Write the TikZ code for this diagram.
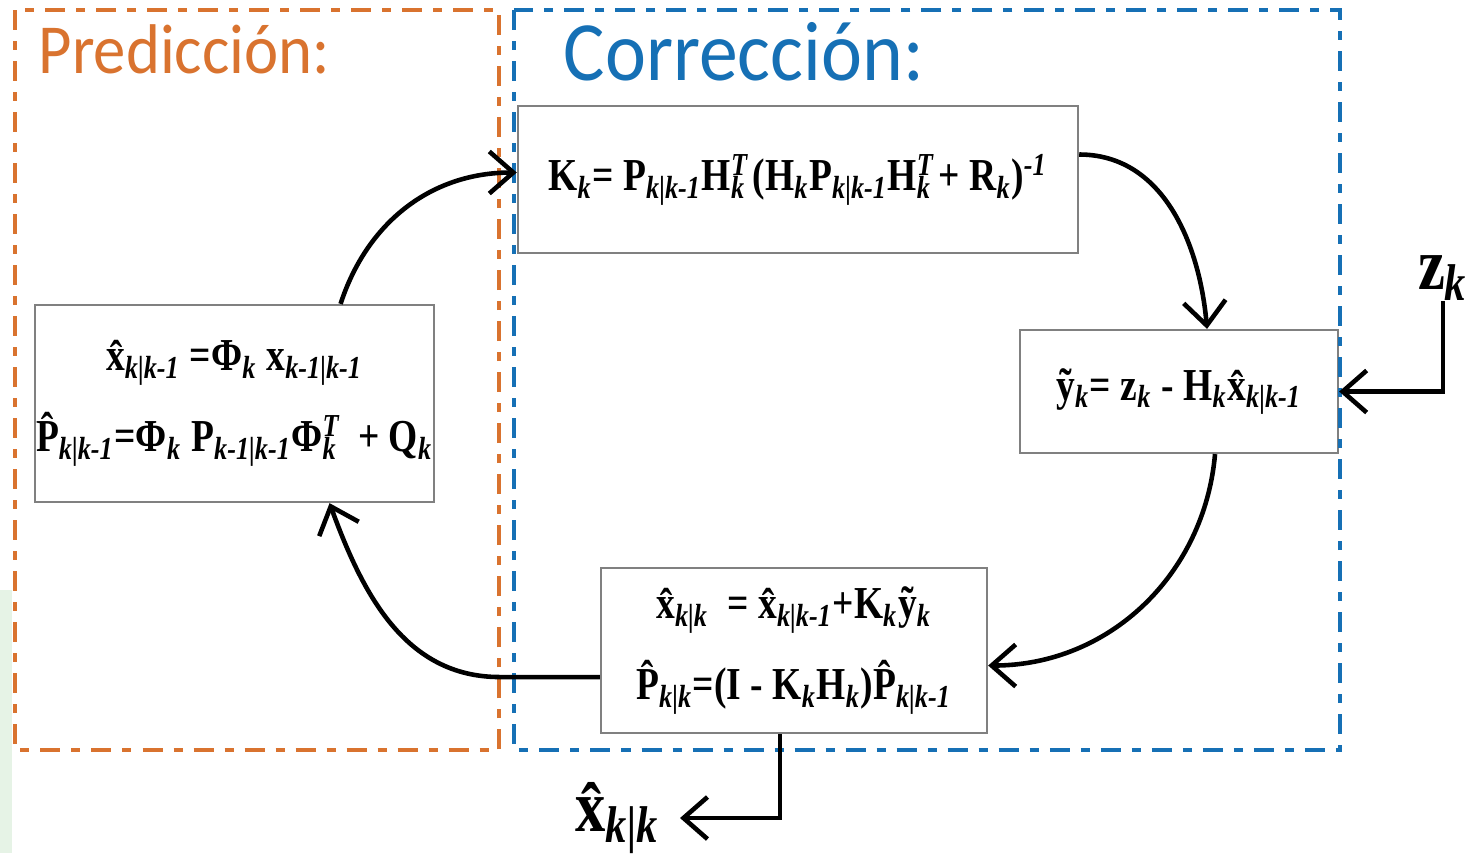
\documentclass[tikz,border=0pt]{standalone}
\usepackage{fontspec}
\setmainfont{Liberation Serif}
\newfontfamily\eqfont[FakeStretch=0.82]{Liberation Serif}
\newfontfamily\titlefont[FakeStretch=0.92]{Carlito}
\usetikzlibrary{arrows.meta}
\newcommand{\sbk}[1]{\textsubscript{\itshape #1}}
\newcommand{\spsb}[2]{\makebox[0pt][l]{\textsuperscript{\itshape #1}}\textsubscript{\itshape #2}\hspace{0.15em}}
\begin{document}
\begin{tikzpicture}[x=0.01cm, y=-0.01cm,
  eqbox/.style={draw=black!50, line width=0.6pt, fill=white, align=center, inner sep=0pt, font=\eqfont\fontsize{13}{23}\selectfont\bfseries},
  flow/.style={line width=1.3pt, -{Straight Barb[length=2.4mm,width=4.2mm]}},
  frame/.style={line width=0.95pt, dash pattern=on 2mm off 1.1mm on 0.9mm off 1.1mm},
  bigsym/.style={font=\eqfont\fontsize{21}{24}\selectfont\bfseries, inner sep=0pt}]
  \definecolor{kfOrange}{HTML}{D9732F}
  \definecolor{kfBlue}{HTML}{1670B5}
  \definecolor{kfMint}{HTML}{E6F3E6}
  \useasboundingbox (0,0) rectangle (1467,853);
  \fill[kfMint] (0,590) rectangle (12,853);
  \node[eqbox, minimum width=5.6cm, minimum height=1.47cm] (kgain) at (798,179.5)
    {K\sbk{k}= P\sbk{k|k-1}H\spsb{T}{k}(H\sbk{k}P\sbk{k|k-1}H\spsb{T}{k}+ R\sbk{k})\textsuperscript{\itshape -1}};
  \node[eqbox, minimum width=3.99cm, minimum height=1.97cm] (pred) at (234.5,403.5)
    {\^{x}\sbk{k|k-1} =Φ\sbk{k} x\sbk{k-1|k-1}\\
     \^{P}\sbk{k|k-1}=Φ\sbk{k} P\sbk{k-1|k-1}Φ\spsb{T}{k}\hspace{0.3em}+ Q\sbk{k}};
  \node[eqbox, minimum width=3.18cm, minimum height=1.23cm] (innov) at (1179,391.5)
    {\~{y}\sbk{k}= z\sbk{k} - H\sbk{k}\^{x}\sbk{k|k-1}};
  \node[eqbox, minimum width=3.86cm, minimum height=1.65cm] (upd) at (794,650.5)
    {\^{x}\sbk{k|k}\ \ = \^{x}\sbk{k|k-1}+K\sbk{k}\~{y}\sbk{k}\\
     \^{P}\sbk{k|k}=(I - K\sbk{k}H\sbk{k})\^{P}\sbk{k|k-1}};
  \node[bigsym] (zk) at (1443,278) {z\sbk{k}};
  \node[bigsym, anchor=east] (xout) at (660,818) {\^{x}\sbk{k|k}};
  \draw[frame, kfOrange] (15,10) rectangle (499,750);
  \draw[frame, kfBlue] (514,10) rectangle (1340,750);
  \node[anchor=base west, kfOrange, font=\titlefont\fontsize{20}{24}\selectfont, inner sep=0pt] (tpred) at (38,73) {Predicción:};
  \node[anchor=base west, kfBlue, font=\titlefont\fontsize{24}{28}\selectfont, inner sep=0pt] (tcorr) at (563,80) {Corrección:};
  \draw[flow] ([xshift=1.06cm]pred.north) to[out=72, in=180] ([yshift=0.07cm]kgain.west);
  \draw[flow] ([yshift=0.25cm]kgain.east) to[out=0, in=95] ([xshift=0.28cm]innov.north);
  \draw[flow] ([xshift=0.36cm]innov.south) to[out=-95, in=0] ([yshift=-0.15cm]upd.east);
  \draw[flow] ([yshift=-0.265cm]upd.west) -- ++(-1cm,0) to[out=180, in=-70] ([xshift=0.95cm]pred.south);
  \draw[flow] (zk.south) |- (innov.east);
  \draw[flow] ([xshift=-0.14cm]upd.south) |- ([xshift=0.2cm]xout.east);
\end{tikzpicture}
\end{document}
